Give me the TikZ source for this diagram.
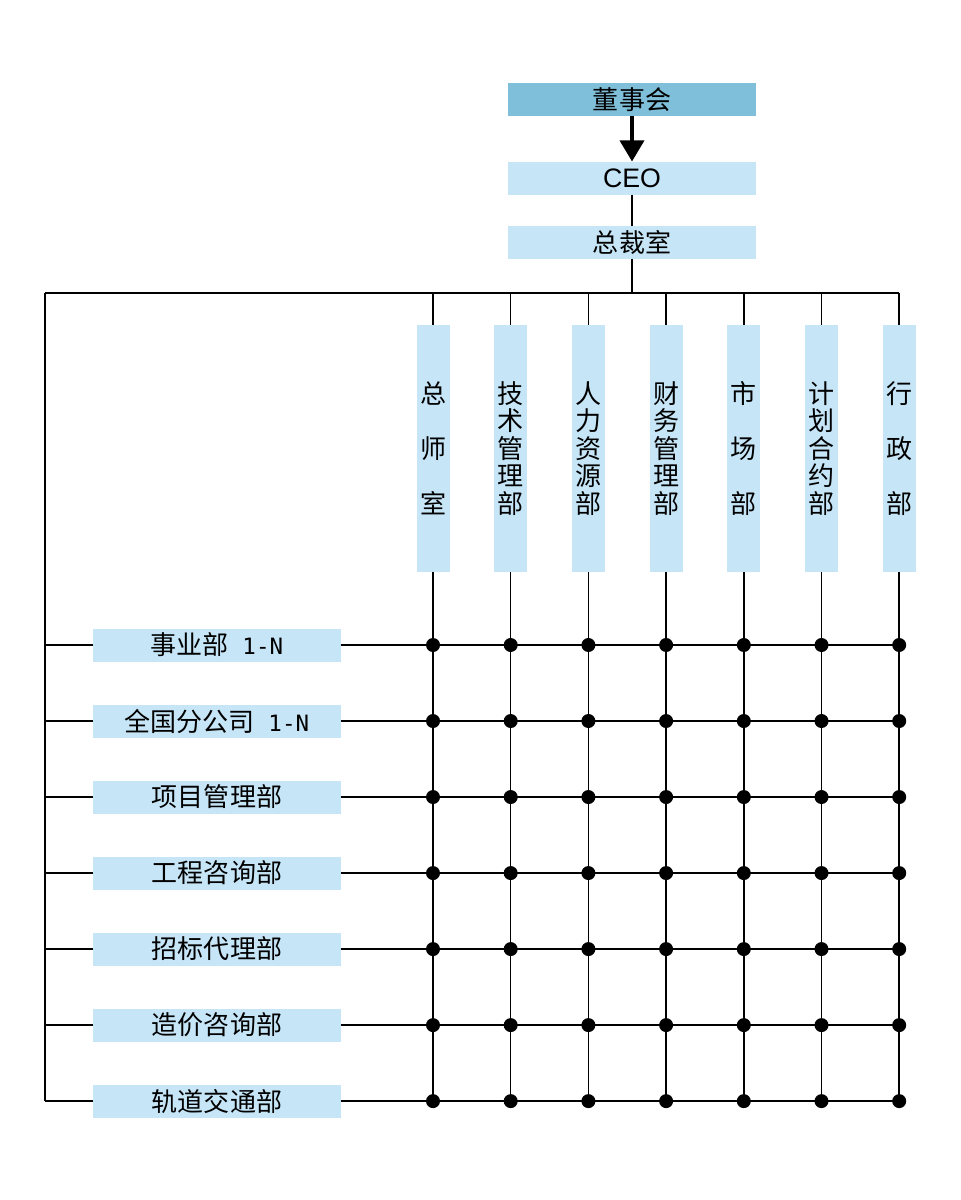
\documentclass[tikz,border=0pt]{standalone}
\usepackage{fontspec}
\setmainfont{Noto Sans CJK SC}
\newfontfamily\arialfont{Liberation Sans}
\newfontfamily\halffont{DejaVu Sans Mono}
\usepackage{xcolor}
\usepackage{tikz}
\usetikzlibrary{positioning,arrows.meta}

\definecolor{boardblue}{HTML}{80BFDA}
\definecolor{deptblue}{HTML}{C6E6F8}

\newcommand{\oneN}{{\halffont\fontsize{16}{16}\selectfont{} 1-N}}

\tikzset{
  headbox/.style={fill=deptblue, minimum width=6.2cm, minimum height=0.825cm, inner sep=0pt, outer sep=0pt, font=\fontsize{18.5}{18.5}\selectfont},
  colbox/.style={fill=deptblue, minimum width=0.825cm, minimum height=6.175cm, inner sep=0pt, outer sep=0pt, align=center, font=\fontsize{18.5}{19.5}\selectfont},
  rowbox/.style={fill=deptblue, minimum width=6.2cm, minimum height=0.825cm, inner sep=0pt, outer sep=0pt, font=\fontsize{18.5}{18.5}\selectfont},
  link/.style={line width=1.1pt},
  joint/.style={fill=black},
}

\begin{document}
\begin{tikzpicture}[x=0.025cm, y=-0.025cm]
  \useasboundingbox (0,0) rectangle (960,1200);

  \node[headbox, fill=boardblue] (board) at (632,100) {董事会} ; %
  \node[headbox, below=1.125cm of board] (ceo) {\arialfont\fontsize{19}{19}\selectfont CEO} ; %
  \node[headbox, below=0.775cm of ceo] (office) {总裁室} ; %

  % functional departments
  \node[colbox] (c1) at (433,448.5) {总\\[19.5pt]师\\[19.5pt]室} ; %
  \node[colbox, right=1.117cm of c1] (c2) {技\\术\\管\\理\\部} ; %
  \node[colbox, right=1.117cm of c2] (c3) {人\\力\\资\\源\\部} ; %
  \node[colbox, right=1.117cm of c3] (c4) {财\\务\\管\\理\\部} ; %
  \node[colbox, right=1.117cm of c4] (c5) {市\\[19.5pt]场\\[19.5pt]部} ; %
  \node[colbox, right=1.117cm of c5] (c6) {计\\划\\合\\约\\部} ; %
  \node[colbox, right=1.117cm of c6] (c7) {行\\[19.5pt]政\\[19.5pt]部} ; %

  % business units
  \node[rowbox] (r1) at (217,645) {事业部\oneN} ; %
  \node[rowbox, below=1.075cm of r1] (r2) {全国分公司\oneN} ; %
  \node[rowbox, below=1.075cm of r2] (r3) {项目管理部} ; %
  \node[rowbox, below=1.075cm of r3] (r4) {工程咨询部} ; %
  \node[rowbox, below=1.075cm of r4] (r5) {招标代理部} ; %
  \node[rowbox, below=1.075cm of r5] (r6) {造价咨询部} ; %
  \node[rowbox, below=1.075cm of r6] (r7) {轨道交通部} ; %

  \coordinate (bus) at (45,293) ; %

  \draw[line width=2.8pt, -{Triangle[width=17pt,length=15pt]}] (board) -- (ceo) ; %
  \draw[link] (ceo) -- (office) ; %
  \draw[link] (office) -- (office |- bus) ; %
  \draw[link] (bus) -- (c7 |- bus) ; %
  \draw[link] (bus) -- (bus |- r7) ; %

  \foreach \c in {c1,c2,c3,c4,c5,c6,c7} {
    \draw[link] (\c |- bus) -- (\c.north) ; %
    \draw[link] (\c.south) -- (\c |- r7) ; %
  }
  \foreach \r in {r1,r2,r3,r4,r5,r6,r7} {
    \draw[link] (bus |- \r) -- (\r.west) ; %
    \draw[link] (\r.east) -- (c7 |- \r) ; %
    \foreach \c in {c1,c2,c3,c4,c5,c6,c7}
      \fill[joint] (\c |- \r) circle (0.175cm) ; %
  }

\end{tikzpicture}
\end{document}
